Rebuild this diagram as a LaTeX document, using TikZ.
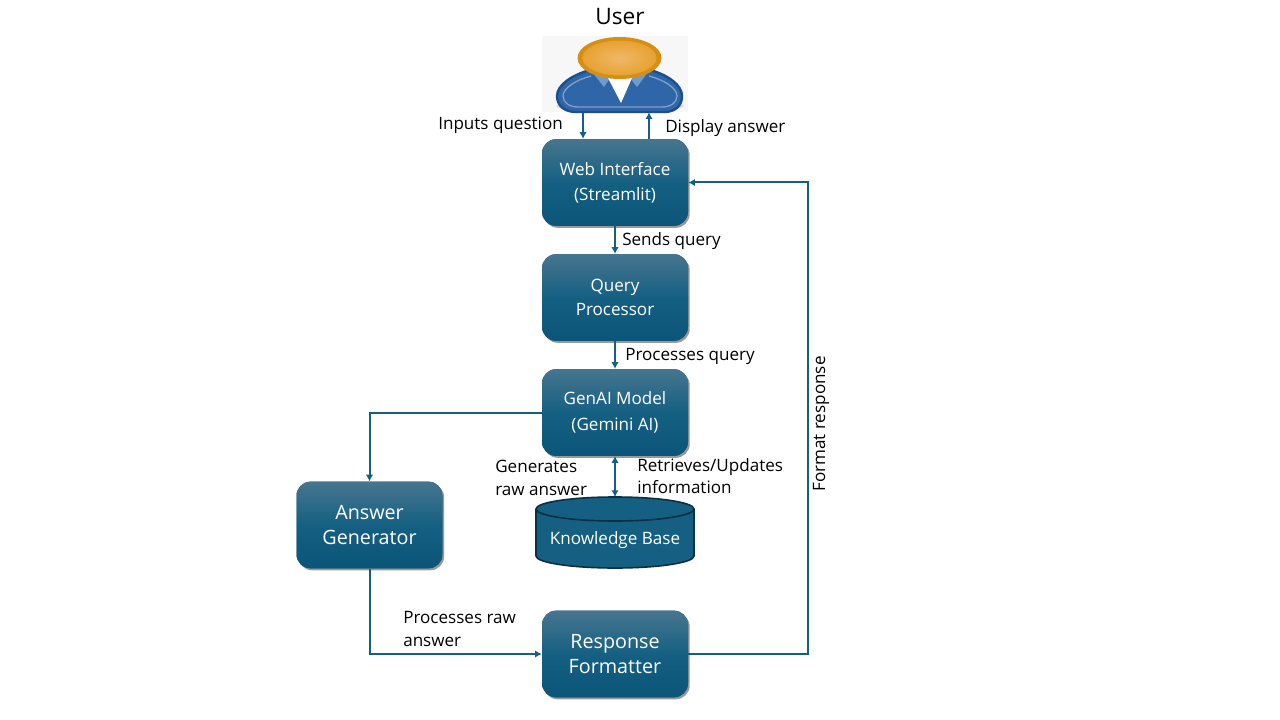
\documentclass[tikz,border=0pt]{standalone}
\usepackage{fontspec}
\setmainfont{Open Sans}
\usetikzlibrary{arrows.meta,shadows}
\definecolor{linecol}{HTML}{156082}
\definecolor{boxtop}{HTML}{47758F}
\definecolor{boxbot}{HTML}{0A5578}
\definecolor{bodyline}{HTML}{1F4E8F}
\definecolor{bodyfill}{HTML}{2E66A8}
\definecolor{bodylite}{HTML}{7FA0C8}
\definecolor{collar}{HTML}{6F9CCB}
\definecolor{headout}{HTML}{D68F12}
\definecolor{headmid}{HTML}{E6A232}
\definecolor{headin}{HTML}{F0B868}
\definecolor{kbline}{HTML}{0B2F43}
\tikzset{
	procbox/.style = {rectangle, rounded corners = 10.5pt, minimum width = 109.5pt, minimum height = 65pt, fill = linecol, text = white, align = center, inner sep = 0pt, drop shadow = {shadow xshift = 1.3pt, shadow yshift = -1.5pt, opacity = 0.4, fill = black}, path picture = {\shade[top color = boxtop, bottom color = boxbot, middle color = linecol] (path picture bounding box.south west) rectangle (path picture bounding box.north east);}, font = \fontsize{12.8}{18}\selectfont},
	bigbox/.style = {procbox, font = \fontsize{14.8}{18.8}\selectfont},
	lbl/.style = {inner sep = 0pt, align = left, text = black, font = \fontsize{12.8}{17}\selectfont},
	flow/.style = {linecol, line width = 1.5pt, -{Latex[length = 5pt, width = 5.5pt]}},
	flowboth/.style = {flow, {Latex[length = 5pt, width = 5.5pt]}-{Latex[length = 5pt, width = 5.5pt]}},
	kbshape/.style = {draw = kbline, line width = 1.2pt, fill = linecol}
}
\begin{document}
\begin{tikzpicture}[x = 0.75pt, y = -0.75pt]
	 \useasboundingbox (0, 0) rectangle (1280, 720);
	 \fill[white] (0, 0) rectangle (1280, 720);

	 % user icon
	 \node[rectangle, fill = blue!2!black!3!white, minimum width = 109.5pt, minimum height = 57pt, inner sep = 0pt] (usericon) at (615, 74) {};
	 \fill[black!14] (620, 106) ellipse (64 and 6);
	 \draw[line width = 1.8pt, draw = bodyline, fill = bodyfill] (590, 70) .. controls (572, 75) and (557, 85) .. (557, 96) .. controls (557, 106) and (565, 112) .. (576, 112) -- (664, 112) .. controls (675, 112) and (682, 106) .. (682, 96) .. controls (682, 85) and (668, 75) .. (650, 70) -- cycle;
	 \draw[line width = 1pt, bodylite] (591, 76) .. controls (576, 80) and (563, 88) .. (563, 96) .. controls (563, 103) and (570, 107) .. (578, 107) -- (662, 107) .. controls (670, 107) and (677, 103) .. (677, 96) .. controls (677, 88) and (664, 80) .. (649, 76);
	 \fill[collar] (592, 72) -- (610, 78) -- (604, 87) -- cycle;
	 \fill[collar] (648, 72) -- (630, 78) -- (637, 87) -- cycle;
	 \fill[white] (608, 78) -- (632, 78) -- (621, 103) -- cycle;
	 \fill[headout] (619.5, 58) ellipse (42 and 21);
	 \shade[inner color = headin, outer color = headmid] (619.5, 58) ellipse (37 and 17.5);

	 % knowledge base drum
	 \draw[kbshape] (536, 509) -- (536, 556) arc (180:0:79 and 12) -- (694, 509);
	 \draw[kbshape] (615, 509) ellipse (79 and 12);
	 \coordinate (kbtop) at (615, 497);

	 % boxes
	 \node[procbox] (webif) at (615, 182.5) {Web Interface\\[1pt](Streamlit)};
	 \node[procbox] (query) at (615, 297.5) {Query\\Processor};
	 \node[procbox] (genai) at (615, 412.5) {GenAI Model\\[2pt](Gemini AI)};
	 \node[bigbox] (answer) at (369.5, 525) {Answer\\Generator};
	 \node[bigbox] (response) at (615, 654) {Response\\Formatter};
	 \node[text = white, inner sep = 0pt, font = \fontsize{12.8}{15}\selectfont] (kb) at (615, 540) {Knowledge Base};

	 % connectors
	 \draw[flow] ([xshift = -24pt] usericon.south) -- ([xshift = -24pt] webif.north);
	 \draw[flow] ([xshift = 25.5pt] webif.north) -- ([xshift = 25.5pt] usericon.south);
	 \draw[flow] (webif) -- (query);
	 \draw[flow] (query) -- (genai);
	 \draw[flowboth] (genai.south) -- (kbtop);
	 \draw[flow] (genai.west) -| (answer.north);
	 \draw[flow] (answer.south) |- (response.west);
	 \draw[flow] (response.east) -- (808, 654) |- (webif.east);

	 % labels
	 \node[lbl] (usertxt) at (620, 17) {\fontsize{17}{20}\selectfont User};
	 \node[lbl, anchor = west] (inputs) at (438, 125) {Inputs question};
	 \node[lbl, anchor = west] (display) at (665, 128) {Display answer};
	 \node[lbl, anchor = west] (sends) at (622, 241) {Sends query};
	 \node[lbl, anchor = west] (procq) at (625, 356) {Processes query};
	 \node[lbl, anchor = west] (gens) at (495, 478) {Generates\\raw answer};
	 \node[lbl, anchor = west] (retr) at (637, 476) {Retrieves/Updates\\information};
	 \node[lbl, anchor = west] (procraw) at (403, 629) {Processes raw\\answer};
	 \node[lbl, rotate = 90] (fmt) at (821, 424) {Format response};
\end{tikzpicture}
\end{document}
